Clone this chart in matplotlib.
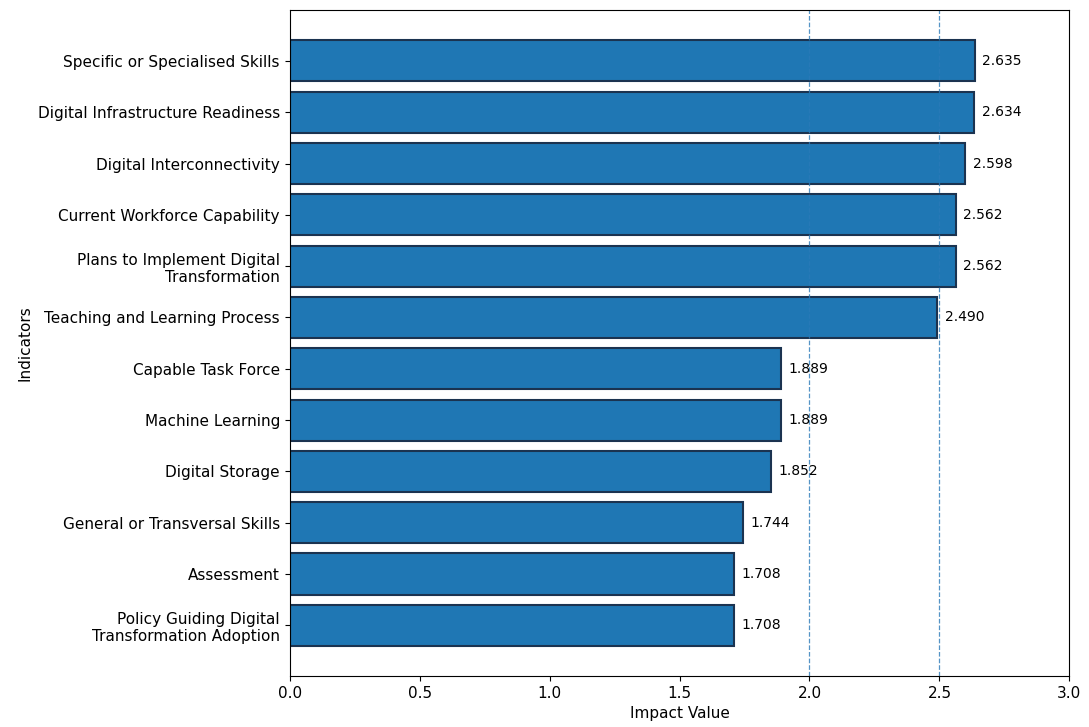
import numpy as np
import matplotlib
matplotlib.use("Agg")
import matplotlib.pyplot as plt

indicators = [
    "Specific or Specialised Skills",
    "Digital Infrastructure Readiness",
    "Digital Interconnectivity",
    "Current Workforce Capability",
    "Plans to Implement Digital\nTransformation",
    "Teaching and Learning Process",
    "Capable Task Force",
    "Machine Learning",
    "Digital Storage",
    "General or Transversal Skills",
    "Assessment",
    "Policy Guiding Digital\nTransformation Adoption",
]
impact = [2.635, 2.634, 2.598, 2.562, 2.562, 2.490,
          1.889, 1.889, 1.852, 1.744, 1.708, 1.708]
thresholds = [2.0, 2.5]

fig, ax = plt.subplots(figsize=(10.89, 7.27), dpi=100)
fig.subplots_adjust(left=0.266, right=0.982, top=0.986, bottom=0.07)

ypos = np.arange(len(indicators))
bars = ax.barh(ypos, impact, color="#1f77b4", edgecolor="#1b3350", linewidth=1.5)
ax.invert_yaxis()
ax.set_yticks(ypos)
ax.set_yticklabels(indicators, fontsize=11)
ax.tick_params(axis="x", labelsize=11)

for t in thresholds:
    ax.axvline(t, color="#2a7ab8", linestyle="--", linewidth=0.9, alpha=0.8)

for b, v in zip(bars, impact):
    ax.text(v + 0.03, b.get_y() + b.get_height() / 2, f"{v:.3f}",
            va="center", ha="left", fontsize=10)

ax.set_xlim(0, 3)
ax.set_xlabel("Impact Value", fontsize=11)
ax.set_ylabel("Indicators", fontsize=11)

fig.savefig("out.png", dpi=100)
